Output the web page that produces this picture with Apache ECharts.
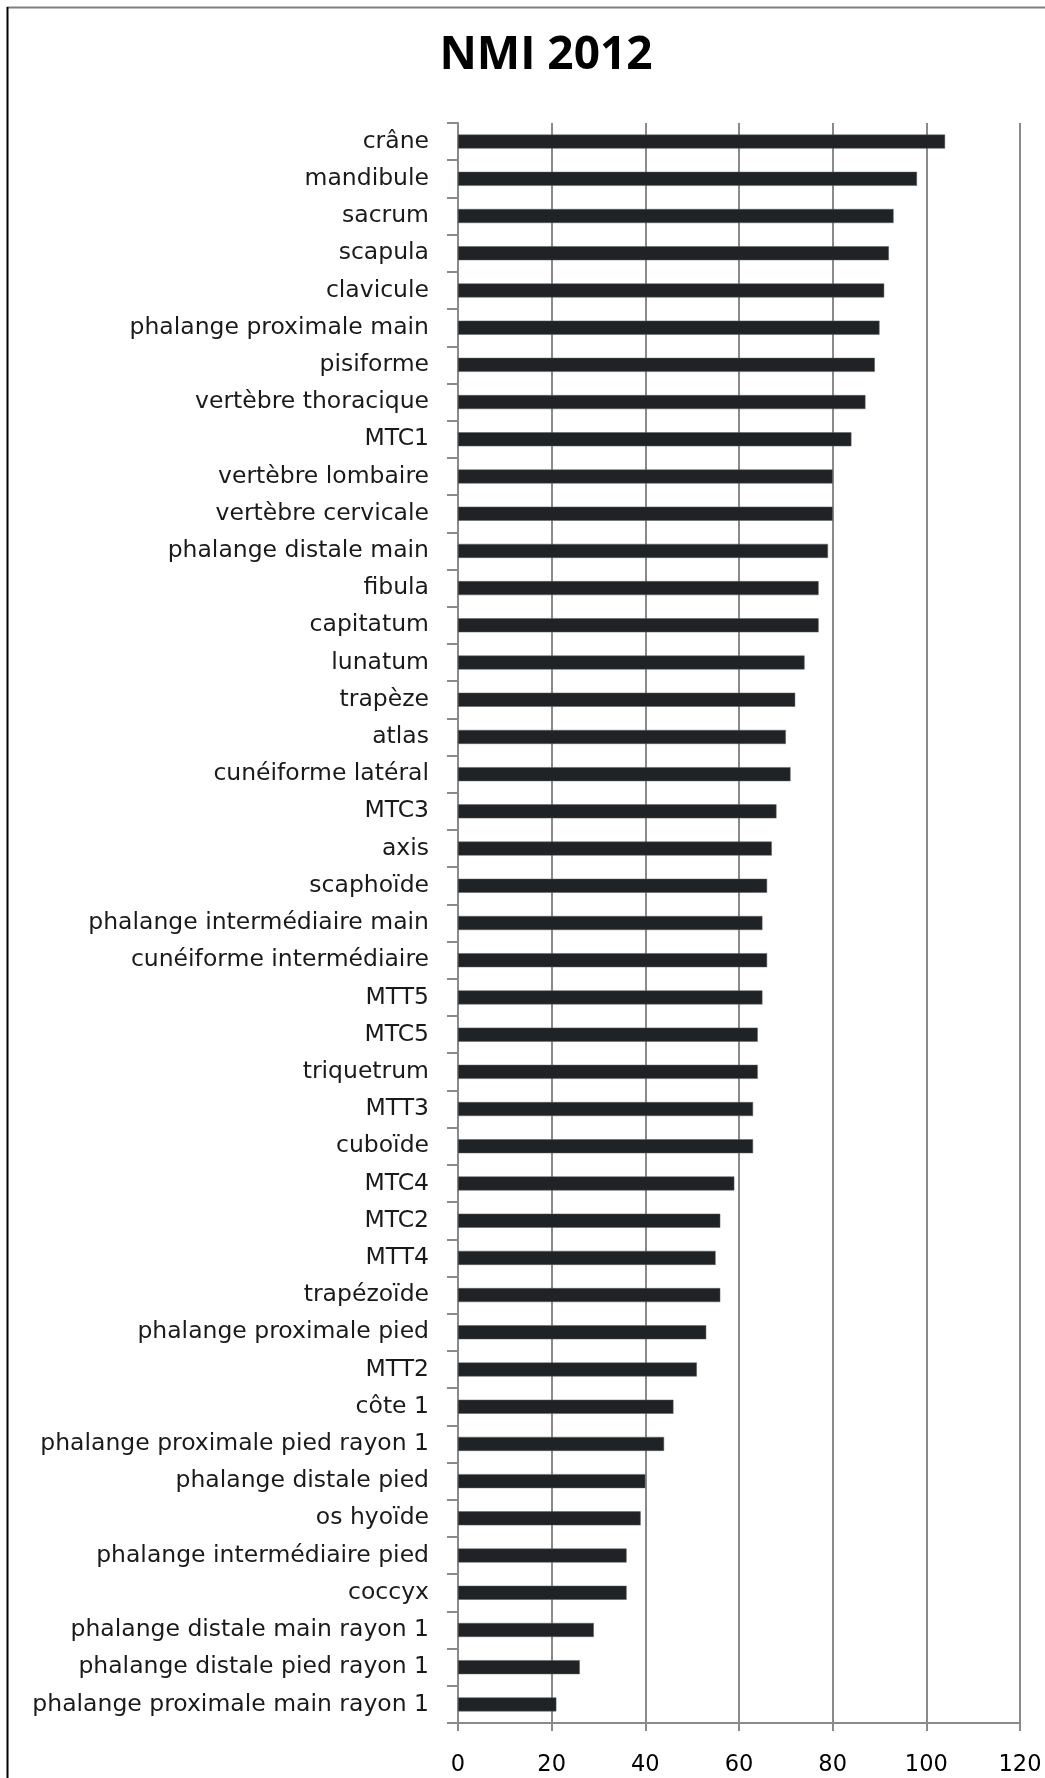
<!DOCTYPE html>
<html>
<head>
<meta charset="utf-8">
<script src="https://cdn.jsdelivr.net/npm/echarts@6/dist/echarts.min.js"></script>
<style>
html,body{margin:0;padding:0;background:#fff;}
#chart{width:1045px;height:1778px;}
</style>
</head>
<body>
<div id="chart"></div>
<script>
var titleText = 'NMI 2012';
var categories = [
  'crâne','mandibule','sacrum','scapula','clavicule','phalange proximale main','pisiforme',
  'vertèbre thoracique','MTC1','vertèbre lombaire','vertèbre cervicale','phalange distale main',
  'fibula','capitatum','lunatum','trapèze','atlas','cunéiforme latéral','MTC3','axis','scaphoïde',
  'phalange intermédiaire main','cunéiforme intermédiaire','MTT5','MTC5','triquetrum','MTT3',
  'cuboïde','MTC4','MTC2','MTT4','trapézoïde','phalange proximale pied','MTT2','côte 1',
  'phalange proximale pied rayon 1','phalange distale pied','os hyoïde','phalange intermédiaire pied',
  'coccyx','phalange distale main rayon 1','phalange distale pied rayon 1','phalange proximale main rayon 1'
];
var values = [
  104, 98, 93, 92, 91, 90, 89,
  87, 84, 80, 80, 79,
  77, 77, 74, 72, 70, 71, 68, 67, 66,
  65, 66, 65, 64, 64, 63,
  63, 59, 56, 55, 56, 53, 51, 46,
  44, 40, 39, 36,
  36, 29, 26, 21
];
var xTicks = [0, 20, 40, 60, 80, 100, 120];

var chart = echarts.init(document.getElementById('chart'), null, {renderer: 'canvas'});
var gridColor = '#8a8a8a';
chart.setOption({
  animation: false,
  backgroundColor: '#ffffff',
  title: {
    text: titleText,
    left: 541,
    top: 28,
    textAlign: 'center',
    textStyle: {fontFamily: 'Open Sans', fontWeight: 'bold', fontSize: 46, color: '#000'}
  },
  graphic: [
    {type: 'line', shape: {x1: 7, y1: 7.5, x2: 1045, y2: 7.5}, style: {stroke: '#7f7f7f', lineWidth: 2}},
    {type: 'line', shape: {x1: 7.5, y1: 7, x2: 7.5, y2: 1778}, style: {stroke: '#000', lineWidth: 2}}
  ],
  grid: {left: 458, right: 25, top: 123, bottom: 55, containLabel: false},
  xAxis: {
    type: 'value', min: xTicks[0], max: xTicks[xTicks.length - 1], interval: 20,
    axisLine: {show: true, lineStyle: {color: gridColor, width: 2}},
    axisTick: {show: true, length: 8, lineStyle: {color: gridColor, width: 2}},
    splitLine: {show: true, lineStyle: {color: gridColor, width: 2}},
    axisLabel: {fontFamily: 'DejaVu Sans', fontSize: 22.5, color: '#000', margin: 31,
      formatter: function (v) { return xTicks.indexOf(v) >= 0 ? String(v) : ''; }}
  },
  yAxis: {
    type: 'category', data: categories, inverse: true,
    axisLine: {show: true, lineStyle: {color: gridColor, width: 2}},
    axisTick: {show: true, length: 11, lineStyle: {color: gridColor, width: 2}},
    axisLabel: {fontFamily: 'DejaVu Sans', fontSize: 23.5, color: '#1a1a1a', margin: 29, interval: 0}
  },
  series: [{
    type: 'bar', data: values, barWidth: 14,
    itemStyle: {color: '#202326', borderColor: '#5a5c5e', borderWidth: 0.5}
  }]
});
</script>
</body>
</html>
